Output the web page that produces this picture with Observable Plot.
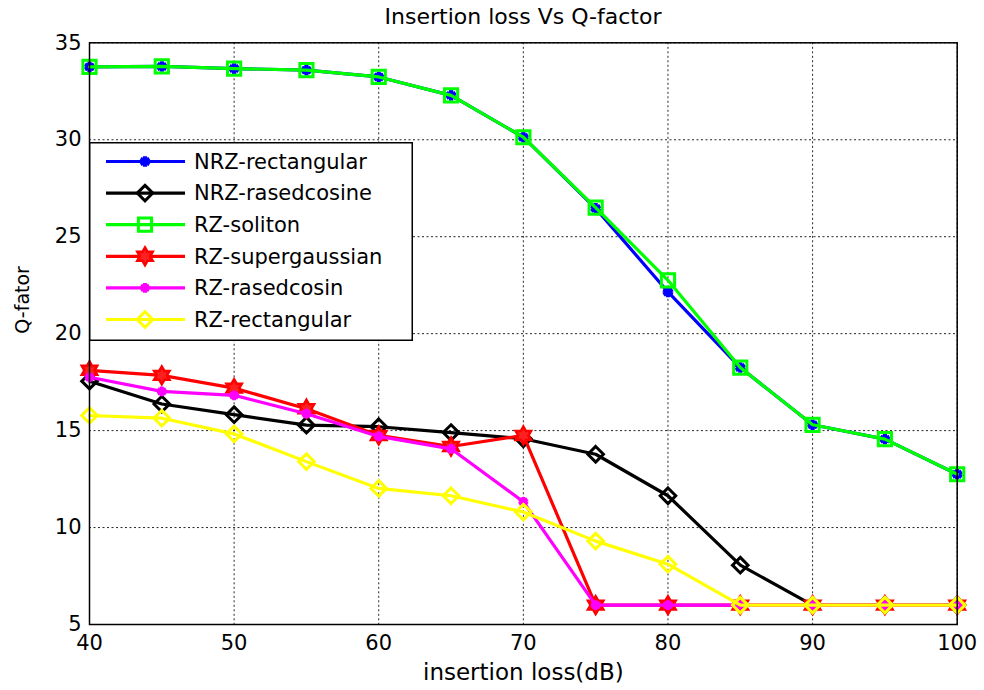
<!DOCTYPE html>
<html>
<head>
<meta charset="utf-8">
<script src="https://cdn.jsdelivr.net/npm/d3@7"></script>
<script src="https://cdn.jsdelivr.net/npm/@observablehq/plot@0.6"></script>
<style>
  body { margin: 0; background: #fff; }
  #wrap { position: relative; width: 984px; height: 690px; background: #fff; }
  #title { position: absolute; left: 89px; top: 0; width: 868px; height: 30px; text-align: center;
           font-family: "DejaVu Sans", sans-serif; font-size: 22px; line-height: 24px; padding-top: 5px; box-sizing: border-box; color: #000; }
  #chart { position: absolute; left: 0; top: 30px; }
  #legend { position: absolute; left: 89px; top: 142px; }
</style>
</head>
<body>
<div id="wrap">
  <div id="title">Insertion loss Vs Q-factor</div>
  <div id="chart"></div>
  <div id="legend"></div>
</div>
<script>
// ---- data ----
const insertionLoss = [40, 45, 50, 55, 60, 65, 70, 75, 80, 85, 90, 95, 100];
const nrzRectangular   = [33.76, 33.78, 33.67, 33.59, 33.24, 32.29, 30.13, 26.46, 22.15, 18.25, 15.30, 14.56, 12.75];
const nrzRaisedCosine  = [17.55, 16.37, 15.82, 15.28, 15.20, 14.90, 14.58, 13.78, 11.64, 8.06, 6.00, 6.00, 6.00];
const rzSoliton        = [33.76, 33.78, 33.67, 33.59, 33.24, 32.29, 30.13, 26.50, 22.75, 18.25, 15.30, 14.56, 12.75];
const rzSupergaussian  = [18.11, 17.85, 17.19, 16.13, 14.75, 14.18, 14.75, 6.00, 6.00, 6.00, 6.00, 6.00, 6.00];
const rzRaisedCosin    = [17.75, 17.02, 16.82, 15.87, 14.70, 14.06, 11.33, 6.00, 6.00, 6.00, 6.00, 6.00, 6.00];
const rzRectangular    = [15.78, 15.64, 14.83, 13.40, 12.02, 11.64, 10.80, 9.30, 8.11, 6.00, 6.00, 6.00, 6.00];
const seriesNames = ["NRZ-rectangular", "NRZ-rasedcosine", "RZ-soliton", "RZ-supergaussian", "RZ-rasedcosin", "RZ-rectangular"];
const xTicks = [40, 50, 60, 70, 80, 90, 100];
const yTicks = [5, 10, 15, 20, 25, 30, 35];
const titleText = "Insertion loss Vs Q-factor";
const xLabel = "insertion loss(dB)";
const yLabel = "Q-fator";

// ---- styles ----
const hexagram = {
  draw(context, size) {
    const R = Math.sqrt(size / Math.PI);
    const r = R / Math.sqrt(3);
    for (let i = 0; i < 12; i++) {
      const a = -Math.PI / 2 + i * Math.PI / 6;
      const rad = i % 2 === 0 ? R : r;
      const px = rad * Math.cos(a), py = rad * Math.sin(a);
      if (i === 0) context.moveTo(px, py); else context.lineTo(px, py);
    }
    context.closePath();
  }
};
const styles = [
  {color: "#0000ff", symbol: d3.symbolAsterisk, r: 5.0, fill: "#0000ff", sw: 4.2},
  {color: "#000000", symbol: d3.symbolDiamond2, r: 7.0, fill: "none", sw: 3},
  {color: "#00ff00", symbol: d3.symbolSquare2,  r: 8.4, fill: "none", sw: 3},
  {color: "#ff0000", symbol: hexagram,          r: 8.8, fill: "#ff2020", sw: 2.6},
  {color: "#ff00ff", symbol: d3.symbolAsterisk, r: 4.6, fill: "#ff00ff", sw: 4},
  {color: "#ffff00", symbol: d3.symbolDiamond2, r: 7.0, fill: "none", sw: 3}
];
const seriesValues = [nrzRectangular, nrzRaisedCosine, rzSoliton, rzSupergaussian, rzRaisedCosin, rzRectangular];

const font = "DejaVu Sans, sans-serif";
const marks = [
  Plot.gridX(xTicks, {stroke: "#000", strokeOpacity: 0.85, strokeWidth: 1, strokeDasharray: "2,2.5"}),
  Plot.gridY(yTicks, {stroke: "#000", strokeOpacity: 0.85, strokeWidth: 1, strokeDasharray: "2,2.5"}),
  Plot.axisX(xTicks, {tickSize: 0, tickPadding: 11, fontSize: 21, label: null, fill: "#000"}),
  Plot.axisY(yTicks, {tickSize: 0, tickPadding: 8, fontSize: 21, label: null, fill: "#000"}),
  Plot.text([xLabel], {text: d => d, frameAnchor: "bottom", dy: 48, fontSize: 23, fill: "#000", lineAnchor: "middle"}),
  Plot.text([yLabel], {text: d => d, frameAnchor: "left", dx: -67, rotate: -90, fontSize: 19, fill: "#000", lineAnchor: "middle"})
];
seriesValues.forEach((vals, i) => {
  const rows = insertionLoss.map((x, j) => ({x, y: vals[j], series: seriesNames[i]}));
  const s = styles[i];
  marks.push(Plot.line(rows, {x: "x", y: "y", stroke: s.color, strokeWidth: 3.2, strokeLinejoin: "round"}));
  marks.push(Plot.dot(rows, {x: "x", y: "y", symbol: s.symbol, r: s.r, stroke: s.color, fill: s.fill, strokeWidth: s.sw}));
});
marks.push(Plot.frame({stroke: "#000", strokeWidth: 1.5}));

const chart = Plot.plot({
  width: 984,
  height: 660,
  marginLeft: 89,
  marginRight: 27.3,
  marginTop: 12.3,
  marginBottom: 66,
  style: {fontFamily: font, fontSize: "21px", background: "#fff", color: "#000"},
  x: {domain: [40, 100], ticks: xTicks},
  y: {domain: [5, 35], ticks: yTicks},
  marks
});
document.getElementById("chart").appendChild(chart);

// ---- legend ----
const lw = 324, lh = 199;
const leg = d3.select("#legend").append("svg").attr("width", lw).attr("height", lh)
  .style("font-family", font).style("font-size", "21px");
leg.append("rect").attr("x", 0.75).attr("y", 0.75).attr("width", lw - 1.5).attr("height", lh - 1.5)
  .attr("fill", "#fff").attr("stroke", "#000").attr("stroke-width", 1.5);
seriesNames.forEach((name, i) => {
  const s = styles[i];
  const yy = 19.5 + i * 31.6;
  const g = leg.append("g").attr("transform", `translate(0,${yy})`);
  g.append("line").attr("x1", 17).attr("x2", 96).attr("y1", 0).attr("y2", 0)
    .attr("stroke", s.color).attr("stroke-width", 3.2);
  g.append("path").attr("transform", "translate(56,0)")
    .attr("d", d3.symbol(s.symbol, Math.PI * s.r * s.r)())
    .attr("fill", s.fill).attr("stroke", s.color).attr("stroke-width", s.sw);
  g.append("text").attr("x", 105).attr("y", 0).attr("dy", "0.35em").attr("fill", "#000").text(name);
});
</script>
</body>
</html>
